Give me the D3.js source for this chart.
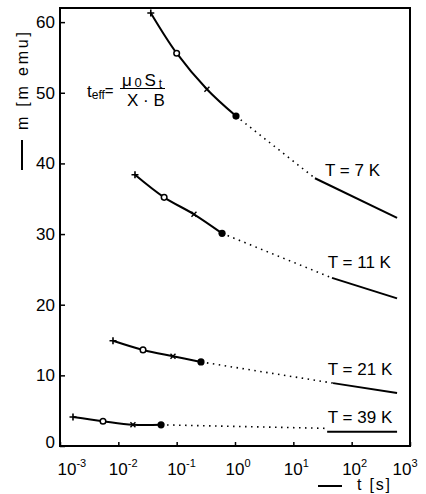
<!DOCTYPE html>
<html>
<head>
<meta charset="utf-8">
<title>m vs t</title>
<script src="https://d3js.org/d3.v7.min.js"></script>
<style>
body { margin:0; background:#fff; }
text { font-family: "Liberation Sans", Arial, sans-serif; fill:#000; }
</style>
</head>
<body>
<div id="chart"></div>
<script>
// temperatures of the four curves
var temps = ['7', '11', '21', '39'];

// measured points in order +, o, x, filled dot   [t (s), m (memu)]
var meas7  = [[0.036, 61.3], [0.10, 55.6], [0.33, 50.5], [1.04, 46.7]];
var meas11 = [[0.0193, 38.4], [0.061, 35.2], [0.198, 32.8], [0.60, 30.1]];
var meas21 = [[0.0081, 14.9], [0.0265, 13.6], [0.0865, 12.7], [0.261, 11.9]];
var meas39 = [[0.00167, 4.1], [0.00546, 3.5], [0.0178, 3.0], [0.054, 3.0]];

// end of the dotted extrapolation
var dot7  = [23.5, 37.9];
var dot11 = [46, 23.8];
var dot21 = [48, 8.9];
var dot39 = [35, 2.5];

// solid long-time part
var tail7  = [[23.5, 37.9], [600, 32.3]];
var tail11 = [[46, 23.8], [600, 20.9]];
var tail21 = [[48, 8.9], [600, 7.5]];
var tail39 = [[38, 2.0], [600, 2.0]];

var yTicks = [0, 10, 20, 30, 40, 50, 60];
var xTicks = [1e-3, 1e-2, 1e-1, 1e0, 1e1, 1e2, 1e3];
var xExp   = ['-3', '-2', '-1', '0', '1', '2', '3'];

var series = [
  {T: temps[0], meas: meas7,  dot: dot7,  tail: tail7},
  {T: temps[1], meas: meas11, dot: dot11, tail: tail11},
  {T: temps[2], meas: meas21, dot: dot21, tail: tail21},
  {T: temps[3], meas: meas39, dot: dot39, tail: tail39}
];

var W = 426, H = 494;
var mL = 60, mR = 410, mT = 8, mB = 446;

var svg = d3.select("#chart").append("svg")
  .attr("width", W).attr("height", H);

var x = d3.scaleLog().domain([1e-3, 1e3]).range([mL, mR]);
var y = d3.scaleLinear().domain([0, 62]).range([mB, mT]);

// frame
svg.append("rect")
  .attr("x", mL).attr("y", mT)
  .attr("width", mR - mL).attr("height", mB - mT)
  .attr("fill", "none").attr("stroke", "#000").attr("stroke-width", 2);

// y axis, ticks pointing in
var yAxis = d3.axisLeft(y).tickValues(yTicks).tickSizeInner(-5).tickSizeOuter(0).tickPadding(5);
var gy = svg.append("g").attr("transform", "translate(" + mL + ",0)").call(yAxis);
gy.select(".domain").remove();
gy.selectAll(".tick line").attr("stroke", "#000").attr("stroke-width", 1.5);
gy.selectAll(".tick text").style("font-size", "17px").attr("fill", "#000")
  .attr("y", function(d) { return d == 0 ? -4 : 0; });

// x axis, ticks pointing in, labels done by hand (powers of ten)
var xAxis = d3.axisBottom(x).tickValues(xTicks).tickSizeInner(-4).tickSizeOuter(0).tickFormat("");
var gx = svg.append("g").attr("transform", "translate(0," + mB + ")").call(xAxis);
gx.select(".domain").remove();
gx.selectAll(".tick line").attr("stroke", "#000").attr("stroke-width", 1.5);

xTicks.forEach(function(v, i) {
  var shift = i == 0 ? 7 : (i == xTicks.length - 1 ? -8 : 0);
  var t = svg.append("text")
    .attr("x", x(v) + shift - 9.5).attr("y", 475)
    .style("font-size", "17px");
  t.append("tspan").text("10");
  t.append("tspan").attr("dy", -8).style("font-size", "11px").text(xExp[i]);
});

// curves
var line = d3.line().x(function(d) { return x(d[0]); }).y(function(d) { return y(d[1]); });
var curve = d3.line().x(function(d) { return x(d[0]); }).y(function(d) { return y(d[1]); })
  .curve(d3.curveCatmullRom);

series.forEach(function(s) {
  svg.append("path").attr("d", curve(s.meas))
    .attr("fill", "none").attr("stroke", "#000").attr("stroke-width", 2);
  svg.append("path").attr("d", line([s.meas[3], s.dot]))
    .attr("fill", "none").attr("stroke", "#000").attr("stroke-width", 1.6)
    .attr("stroke-dasharray", "1.5 4.5");
  svg.append("path").attr("d", line(s.tail))
    .attr("fill", "none").attr("stroke", "#000").attr("stroke-width", 2);

  var p;
  // +
  p = s.meas[0];
  svg.append("path")
    .attr("d", "M" + (x(p[0]) - 3.5) + "," + y(p[1]) + "h7M" + x(p[0]) + "," + (y(p[1]) - 3.5) + "v7")
    .attr("stroke", "#000").attr("stroke-width", 1.6);
  // o
  p = s.meas[1];
  svg.append("circle").attr("cx", x(p[0])).attr("cy", y(p[1])).attr("r", 2.8)
    .attr("fill", "#fff").attr("stroke", "#000").attr("stroke-width", 1.5);
  // x
  p = s.meas[2];
  svg.append("path")
    .attr("d", "M" + (x(p[0]) - 2.5) + "," + (y(p[1]) - 2.5) + "l5,5M" + (x(p[0]) - 2.5) + "," + (y(p[1]) + 2.5) + "l5,-5")
    .attr("stroke", "#000").attr("stroke-width", 1.4);
  // filled dot
  p = s.meas[3];
  svg.append("circle").attr("cx", x(p[0])).attr("cy", y(p[1])).attr("r", 3.6).attr("fill", "#000");
});

// temperature labels
var labAt = [[35, 38.2], [39, 25.2], [39, 10.0], [39, 3.25]];
series.forEach(function(s, i) {
  svg.append("text")
    .attr("x", x(labAt[i][0])).attr("y", y(labAt[i][1]))
    .style("font-size", "17px")
    .text("T = " + s.T + " K");
});

// formula
var f = svg.append("text").attr("x", 87).attr("y", 97).style("font-size", "17px");
f.append("tspan").text("t");
f.append("tspan").attr("dy", 2).style("font-size", "12px").text("eff");
f.append("tspan").attr("dy", -3).style("font-size", "15px").text("=");
var num = svg.append("text").attr("x", 122).attr("y", 86).style("font-size", "17px")
  .attr("textLength", 40).attr("lengthAdjust", "spacing");
num.append("tspan").text("\u03bc");
num.append("tspan").attr("dy", 1).style("font-size", "13px").text("0");
num.append("tspan").attr("dy", -1).text("S");
num.append("tspan").attr("dy", 2).style("font-size", "12px").text("t");
svg.append("line").attr("x1", 120).attr("x2", 165).attr("y1", 88.5).attr("y2", 88.5)
  .attr("stroke", "#000").attr("stroke-width", 1);
svg.append("text").attr("x", 127).attr("y", 106).style("font-size", "17px").text("X \u00b7 B");

// y title
svg.append("line").attr("x1", 22).attr("x2", 22).attr("y1", 140).attr("y2", 170)
  .attr("stroke", "#000").attr("stroke-width", 2);
svg.append("text")
  .attr("transform", "translate(28,130) rotate(-90)")
  .attr("textLength", 98).attr("lengthAdjust", "spacing")
  .style("font-size", "16px")
  .text("m [m emu]");

// x title
svg.append("line").attr("x1", 318).attr("x2", 342).attr("y1", 486).attr("y2", 486)
  .attr("stroke", "#000").attr("stroke-width", 2);
svg.append("text").attr("x", 357).attr("y", 490)
  .attr("textLength", 33).attr("lengthAdjust", "spacing")
  .style("font-size", "16px").text("t [s]");
</script>
</body>
</html>
